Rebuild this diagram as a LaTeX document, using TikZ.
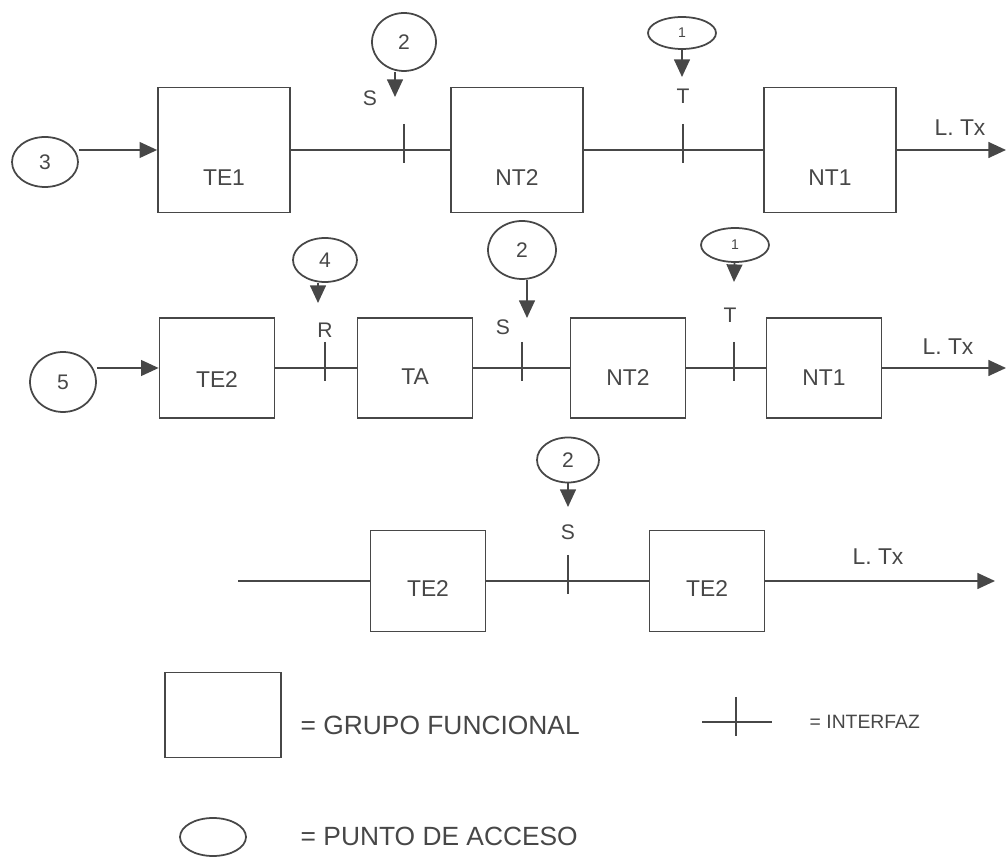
\documentclass[tikz,border=0pt]{standalone}
\usepackage{fontspec}
\setmainfont{Liberation Sans}
\usetikzlibrary{shapes.geometric, arrows.meta}

\begin{document}
\begin{tikzpicture}[
    x=0.02cm, y=-0.02cm,
    color=black!72, line width=1pt,
    >={Triangle[length=10pt, width=9pt]},
    caja/.style 2 args={draw, rectangle, minimum width=#1, minimum height=#2, inner sep=0pt},
    acceso/.style 2 args={draw, ellipse, minimum width=#1, minimum height=#2, inner sep=0pt, font=\fontsize{12}{14}\selectfont},
    nombre/.style={font=\fontsize{13}{15}\selectfont},
    letra/.style={font=\fontsize{12}{14}\selectfont},
    rotulo/.style={anchor=west, font=\fontsize{15}{17}\selectfont}
  ]
    \useasboundingbox (0,0) rectangle (1008,857);

    % --- FILA 1: TE1 - NT2 - NT1 ---
    \node[caja={2.64cm}{2.5cm}, label={[nombre, yshift=-0.56cm]center:TE1}] (te1) at (224,150) {};
    \node[caja={2.64cm}{2.5cm}, label={[nombre, yshift=-0.56cm]center:NT2}] (nt2a) at (517,150) {};
    \node[caja={2.64cm}{2.5cm}, label={[nombre, yshift=-0.56cm]center:NT1}] (nt1a) at (830,150) {};

    % puntos de acceso
    \node[acceso={1.32cm}{1cm}] (p3) at (45,162) {3};
    \node[acceso={1.28cm}{1.16cm}] (p2a) at (404,42) {2};
    \node[acceso={1.36cm}{0.64cm}, font=\fontsize{8}{9}\selectfont] (p1a) at (682,33) {1};

    % interfaces
    \coordinate (sa) at (404,150);
    \coordinate (ta) at (683,150);
    \coordinate (sa-f) at (395,97);
    \coordinate (ta-f) at (682,77);
    \coordinate (lta) at (1006,150);
    \node[letra] (sa-t) at (370,98) {S};
    \node[letra] (ta-t) at (683,96) {T};

    \draw[->] (p3.east |- te1.west) -- (te1.west);
    \draw (te1) -- (nt2a);
    \draw (nt2a) -- (nt1a);
    \draw[->] (nt1a) -- (lta);
    \node[nombre] (lt1) at (960,128) {L. Tx};
    \draw[->] (p2a.south -| sa-f) -- (sa-f);
    \draw[->] (p1a) -- (ta-f);

    % --- FILA 2: TE2 - TA - NT2 - NT1 ---
    \node[caja={2.3cm}{2cm}, label={[nombre, yshift=-0.24cm]center:TE2}] (te2) at (217,368) {};
    \node[caja={2.3cm}{2cm}, label={[nombre, yshift=-0.18cm]center:TA}] (ta2) at (415,368) {};
    \node[caja={2.3cm}{2cm}, label={[nombre, yshift=-0.2cm]center:NT2}] (nt2b) at (628,368) {};
    \node[caja={2.3cm}{2cm}, label={[nombre, yshift=-0.2cm]center:NT1}] (nt1b) at (824,368) {};

    \node[acceso={1.32cm}{1.2cm}] (p5) at (63,382) {5};
    \node[acceso={1.28cm}{0.88cm}] (p4) at (325,260) {4};
    \node[acceso={1.36cm}{1.16cm}] (p2b) at (522,250) {2};
    \node[acceso={1.36cm}{0.68cm}, font=\fontsize{8}{9}\selectfont] (p1b) at (735,245) {1};

    \coordinate (rb) at (325,368);
    \coordinate (sb) at (522,368);
    \coordinate (tb) at (734,368);
    \coordinate (rb-f) at (318,303);
    \coordinate (sb-f) at (527,318);
    \coordinate (tb-f) at (734,282);
    \coordinate (ltb) at (1006,368);
    \node[letra] (rb-t) at (325,330) {R};
    \node[letra] (sb-t) at (503,327) {S};
    \node[letra] (tb-t) at (730,315) {T};

    \draw[->] (p5.east |- te2.west) -- (te2.west);
    \draw (te2) -- (ta2);
    \draw (ta2) -- (nt2b);
    \draw (nt2b) -- (nt1b);
    \draw[->] (nt1b) -- (ltb);
    \node[nombre] (lt2) at (948,347) {L. Tx};
    \draw[->] (p4.south -| rb-f) -- (rb-f);
    \draw[->] (p2b.south -| sb-f) -- (sb-f);
    \draw[->] (p1b) -- (tb-f);

    % --- FILA 3: TE2 - TE2 ---
    \coordinate (ini) at (238,581);
    \node[caja={2.3cm}{2.02cm}, label={[nombre, yshift=-0.16cm]center:TE2}] (te2c) at (428,581) {};
    \node[caja={2.3cm}{2.02cm}, label={[nombre, yshift=-0.16cm]center:TE2}] (te2d) at (707,581) {};

    \node[acceso={1.24cm}{0.9cm}] (p2c) at (568,460) {2};

    \coordinate (sc) at (568,581);
    \coordinate (sc-f) at (568,507);
    \coordinate (ltc) at (995,581);
    \node[letra] (sc-t) at (568,532) {S};

    \draw (ini) -- (te2c);
    \draw (te2c) -- (te2d);
    \draw[->] (te2d) -- (ltc);
    \node[nombre] (lt3) at (878,557) {L. Tx};
    \draw[->] (p2c) -- (sc-f);

    % marcas de interfaz
    \foreach \c in {sa, ta, rb, sb, tb, sc}
        \draw (\c) ++(0,-26) -- ++(0,39);

    % --- LEYENDA ---
    \node[caja={2.32cm}{1.7cm}] (leg-caja) at (223,715) {};
    \node[rotulo] (leg-caja-t) at (294,725) {= GRUPO FUNCIONAL};

    \coordinate (leg-i) at (702,722);
    \coordinate (leg-d) at (772,722);
    \coordinate (leg-a) at (736,697);
    \coordinate (leg-b) at (736,736);
    \draw (leg-i) -- (leg-d);
    \draw (leg-a) -- (leg-b);
    \node[rotulo, font=\fontsize{11}{13}\selectfont] (leg-int) at (803,722) {= INTERFAZ};

    \node[acceso={1.32cm}{0.76cm}] (leg-acc) at (213,837) {};
    \node[rotulo] (leg-acc-t) at (294,836) {= PUNTO DE ACCESO};

  \end{tikzpicture}
\end{document}
